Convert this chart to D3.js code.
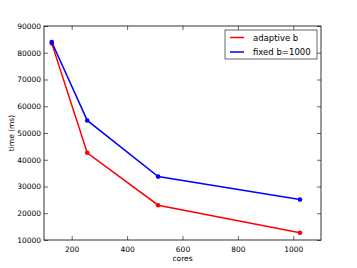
<!DOCTYPE html>
<html>
<head>
<meta charset="utf-8">
<script src="https://cdn.jsdelivr.net/npm/d3@7"></script>
<style>
  body { margin: 0; background: #fff; }
  svg { display: block; font-family: "DejaVu Sans", sans-serif; }
</style>
</head>
<body>
<svg id="chart" width="357" height="268"></svg>
<script>
// data
const cores = [128, 256, 512, 1024];
const adaptive = [83500, 42600, 23000, 12700];
const fixed = [84000, 54700, 33700, 25100];
const xTicks = [200, 400, 600, 800, 1000];
const yTicks = [10000, 20000, 30000, 40000, 50000, 60000, 70000, 80000, 90000];
const seriesNames = ["adaptive b", "fixed b=1000"];
const seriesColors = ["#ff0000", "#0000ff"];

const svg = d3.select("#chart");
const margin = { left: 44, top: 26, right: 36, bottom: 28 };
const W = 357, H = 268;

const x = d3.scaleLinear().domain([100, 1100]).range([margin.left, W - margin.right]);
const y = d3.scaleLinear().domain([10000, 90000]).range([H - margin.bottom, margin.top]);

const tickLen = 4;

// axes with inward ticks on all sides
svg.append("g")
    .attr("transform", `translate(0,${y.range()[0]})`)
    .call(d3.axisBottom(x).tickValues(xTicks).tickSize(-tickLen).tickPadding(7).tickFormat(d3.format("d")))
    .call(g => g.select(".domain").remove());
svg.append("g")
    .attr("transform", `translate(0,${y.range()[1]})`)
    .call(d3.axisTop(x).tickValues(xTicks).tickSize(-tickLen).tickFormat(""))
    .call(g => g.select(".domain").remove());
svg.append("g")
    .attr("transform", `translate(${x.range()[0]},0)`)
    .call(d3.axisLeft(y).tickValues(yTicks).tickSize(-tickLen).tickPadding(3).tickFormat(d3.format("d")))
    .call(g => g.select(".domain").remove());
svg.append("g")
    .attr("transform", `translate(${x.range()[1]},0)`)
    .call(d3.axisRight(y).tickValues(yTicks).tickSize(-tickLen).tickFormat(""))
    .call(g => g.select(".domain").remove());

svg.selectAll(".tick text").attr("font-size", 7.5).attr("fill", "#000").attr("font-family", "DejaVu Sans");
svg.selectAll(".tick line").attr("stroke", "#000").attr("stroke-width", 0.6);

// frame
svg.append("rect")
    .attr("x", x.range()[0]).attr("y", y.range()[1])
    .attr("width", x.range()[1] - x.range()[0])
    .attr("height", y.range()[0] - y.range()[1])
    .attr("fill", "none").attr("stroke", "#000").attr("stroke-width", 0.8);

// series
const line = d3.line().x((d, i) => x(cores[i])).y(d => y(d));
[adaptive, fixed].forEach((vals, k) => {
    svg.append("path")
        .datum(vals)
        .attr("d", line)
        .attr("fill", "none")
        .attr("stroke", seriesColors[k])
        .attr("stroke-width", 1.5);
    svg.append("g").selectAll("circle")
        .data(vals)
        .enter()
        .append("circle")
        .attr("cx", (d, i) => x(cores[i]))
        .attr("cy", d => y(d))
        .attr("r", 2.3)
        .attr("fill", seriesColors[k]);
});

// axis labels
svg.append("text")
    .attr("x", (x.range()[0] + x.range()[1]) / 2)
    .attr("y", 261)
    .attr("text-anchor", "middle")
    .attr("font-size", 7.5)
    .text("cores");
svg.append("text")
    .attr("transform", `translate(14,${(y.range()[0] + y.range()[1]) / 2}) rotate(-90)`)
    .attr("text-anchor", "middle")
    .attr("font-size", 7.5)
    .text("time (ms)");

// legend
const legend = svg.append("g").attr("transform", "translate(225,30)");
legend.append("rect")
    .attr("width", 92).attr("height", 29)
    .attr("fill", "#fff").attr("stroke", "#000").attr("stroke-width", 0.6);
seriesNames.forEach((name, k) => {
    const ly = 7.5 + k * 14.5;
    legend.append("line")
        .attr("x1", 5).attr("x2", 19).attr("y1", ly).attr("y2", ly)
        .attr("stroke", seriesColors[k]).attr("stroke-width", 1.5);
    legend.append("text")
        .attr("x", 28).attr("y", ly + 3)
        .attr("font-size", 8.5)
        .text(name);
});
</script>
</body>
</html>
